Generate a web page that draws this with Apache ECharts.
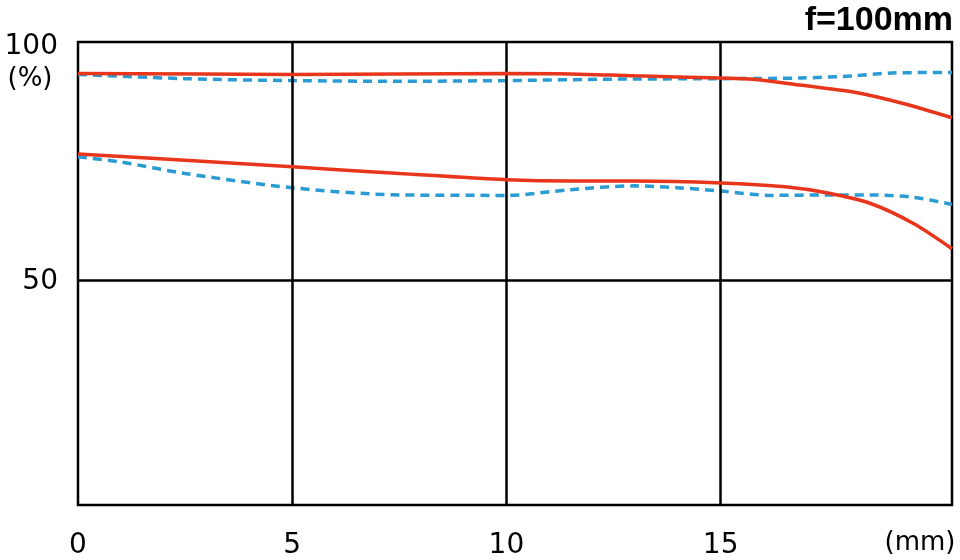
<!DOCTYPE html>
<html>
<head>
<meta charset="utf-8">
<script src="https://cdn.jsdelivr.net/npm/echarts@6/dist/echarts.min.js"></script>
<style>html,body{margin:0;padding:0;background:#fff}#c{width:960px;height:560px}</style>
</head>
<body>
<div id="c"></div>
<script>
// Data (x in mm, MTF in %)
const redTopX   = [0, 5, 10, 11.5, 13, 15, 15.75, 16.9, 18.1, 19.26, 20.4];
const redTopY   = [93.4, 93.2, 93.4, 93.3, 92.9, 92.45, 92.2, 90.9, 89.5, 87.1, 84.1];
const blueTopX  = [0, 2.5, 5, 7.5, 10, 12.5, 15, 16.9, 18.1, 19, 20.4];
const blueTopY  = [93.2, 92.3, 91.9, 91.75, 91.9, 92.2, 92.3, 92.45, 92.9, 93.5, 93.6];
const redLowX   = [0, 2.5, 5, 7.5, 10, 11.5, 13, 15, 16.5, 17.5, 18.5, 19.5, 20.4];
const redLowY   = [76.5, 75.2, 73.8, 72.4, 71.1, 70.8, 70.8, 70.4, 69.6, 68.3, 66.1, 61.9, 56.6];
const blueLowX  = [0, 1, 2.5, 5, 7.5, 10, 11.5, 13, 14, 15, 16.2, 17.5, 18.5, 19.5, 20.4];
const blueLowY  = [75.9, 74.8, 72.4, 69.4, 67.9, 67.8, 69.0, 69.8, 69.4, 68.7, 67.8, 67.9, 67.9, 67.4, 65.9];
const xTicks = [0, 5, 10, 15];
const yTicks = [50, 100];
const xGrid = [5, 10, 15];
const yGrid = [50];

const pair = (xs, ys) => xs.map((x, i) => [x, ys[i]]);
const RED = '#e8361c', BLUE = '#2b9bd3';
const font = '"DejaVu Sans", sans-serif';

const chart = echarts.init(document.getElementById('c'), null, {renderer: 'canvas'});
const lineCommon = {type: 'line', smooth: 0.3, showSymbol: false};
chart.setOption({
  animation: false,
  backgroundColor: '#fff',
  grid: {left: 78, right: 8, top: 42, bottom: 55, show: true, borderColor: '#000', borderWidth: 2.5, backgroundColor: 'transparent'},
  xAxis: {
    type: 'value', min: 0, max: 20.4,
    axisLine: {show: false},
    axisTick: {show: false},
    splitLine: {show: false},
    axisLabel: {customValues: xTicks, color: '#000', fontSize: 28, fontFamily: font, margin: 27}
  },
  yAxis: {
    type: 'value', min: 2.8, max: 100,
    axisLine: {show: false},
    axisTick: {show: false},
    splitLine: {show: false},
    axisLabel: {customValues: yTicks, color: '#000', fontSize: 28, fontFamily: font, margin: 20,
      verticalAlign: 'middle', padding: [0, 0, 0, 0],
      formatter: v => v === 100 ? '{a|100}' : '{b|' + v + '}',
      rich: {a: {fontSize: 28, fontFamily: font, color: '#000', padding: [9, 0, 0, 0]},
             b: {fontSize: 28, fontFamily: font, color: '#000', padding: [4, 0, 0, 0]}}}
  },
  graphic: [
    {type: 'text', x: 953, y: 4, style: {text: 'f=100mm', font: 'bold 34px "Liberation Sans", Arial, sans-serif', fill: '#000', align: 'right', verticalAlign: 'top'}},
    {type: 'text', x: 30, y: 79, style: {text: '(%)', font: '26px ' + font, fill: '#000', align: 'center', verticalAlign: 'middle'}},
    {type: 'text', x: 920, y: 543, style: {text: '(mm)', font: '26px ' + font, fill: '#000', align: 'center', verticalAlign: 'middle'}}
  ],
  series: [
    {type: 'line', data: [], silent: true,
     markLine: {silent: true, symbol: 'none', label: {show: false},
       lineStyle: {color: '#000', width: 2.5, type: 'solid'},
       data: xGrid.map(v => ({xAxis: v})).concat(yGrid.map(v => ({yAxis: v})))}},
    Object.assign({}, lineCommon, {data: pair(redTopX, redTopY), lineStyle: {color: RED, width: 3.5}, z: 5}),
    Object.assign({}, lineCommon, {data: pair(blueTopX, blueTopY), lineStyle: {color: BLUE, width: 3.5, type: [9, 6]}, z: 4}),
    Object.assign({}, lineCommon, {data: pair(redLowX, redLowY), lineStyle: {color: RED, width: 3.5}, z: 5}),
    Object.assign({}, lineCommon, {data: pair(blueLowX, blueLowY), lineStyle: {color: BLUE, width: 3.5, type: [9, 6]}, z: 4})
  ]
});
</script>
</body>
</html>
